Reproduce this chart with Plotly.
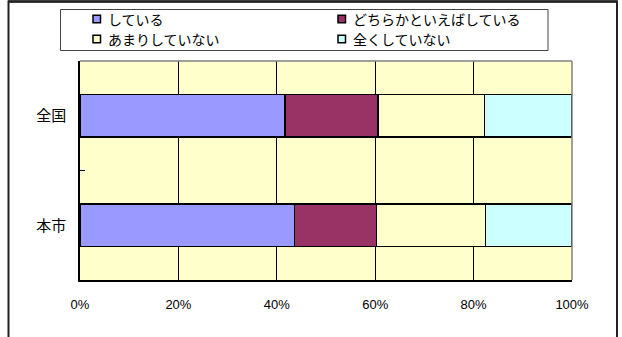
import plotly.graph_objects as go

categories = ["全国", "本市"]
series_names = ["している", "どちらかといえばしている", "あまりしていない", "全くしていない"]
series_values = {
    "している": [41.7, 43.6],
    "どちらかといえばしている": [18.9, 16.7],
    "あまりしていない": [21.6, 22.1],
    "全くしていない": [17.8, 17.6],
}
series_colors = ["#9999FF", "#993366", "#FFFFCC", "#CCFFFF"]
x_tick_values = [0, 20, 40, 60, 80, 100]
x_tick_labels = ["0%", "20%", "40%", "60%", "80%", "100%"]

W, H = 622, 337
L, R, T, B = 80, 50, 61, 57
PW, PH = W - L - R, H - T - B


def px_x(p):
    return (p - L) / PW


def px_y(p):
    return (H - B - p) / PH


fig = go.Figure()
for name, color in zip(series_names, series_colors):
    fig.add_trace(go.Bar(
        y=categories, x=series_values[name], name=name, orientation="h",
        marker=dict(color=color, line=dict(color="black", width=1.6)),
        width=0.385, showlegend=False,
    ))

shapes = []
annotations = []
# outer chart border
shapes.append(dict(type="rect", xref="paper", yref="paper",
                   x0=px_x(8.5), x1=px_x(617), y0=px_y(350), y1=px_y(1.5),
                   line=dict(color="#222222", width=2), layer="below"))
shapes.append(dict(type="line", xref="paper", yref="paper",
                   x0=px_x(8), x1=px_x(617.5), y0=px_y(1.5), y1=px_y(1.5),
                   line=dict(color="#222222", width=2.5)))
# legend box
shapes.append(dict(type="rect", xref="paper", yref="paper",
                   x0=px_x(60.5), x1=px_x(548), y0=px_y(50.5), y1=px_y(9.5),
                   line=dict(color="#444444", width=1), fillcolor="white", layer="below"))
# right/top plot border (gray)
shapes.append(dict(type="line", xref="paper", yref="paper", x0=1, x1=1, y0=0, y1=1,
                   line=dict(color="#808080", width=1.5)))
shapes.append(dict(type="line", xref="paper", yref="paper", x0=0, x1=1, y0=1, y1=1,
                   line=dict(color="#808080", width=1.5)))

legend_pos = [(93, 19), (338, 19), (93, 39), (338, 39)]
for name, color, (mx, my) in zip(series_names, series_colors, legend_pos):
    shapes.append(dict(type="rect", xref="paper", yref="paper",
                       x0=px_x(mx), x1=px_x(mx + 7.5), y0=px_y(my + 3.8), y1=px_y(my - 3.8),
                       fillcolor=color, line=dict(color="black", width=1.5)))
    annotations.append(dict(text=name, xref="paper", yref="paper",
                            x=px_x(mx + 13), y=px_y(my), xanchor="left", yanchor="middle",
                            showarrow=False,
                            font=dict(family="Noto Sans CJK JP", size=14, color="black")))

fig.update_layout(
    barmode="stack",
    width=W, height=H,
    margin=dict(l=L, r=R, t=T, b=B, autoexpand=False),
    paper_bgcolor="white",
    plot_bgcolor="#FFFFCC",
    shapes=shapes,
    annotations=annotations,
    showlegend=False,
    xaxis=dict(range=[0, 100], tickvals=x_tick_values, ticktext=x_tick_labels,
               showgrid=True, gridcolor="black", gridwidth=1,
               showline=True, linecolor="black", linewidth=1.5,
               ticks="", ticklabelstandoff=12, zeroline=False, automargin=False,
               tickfont=dict(family="Liberation Sans, Arial", size=13, color="black")),
    yaxis=dict(autorange="reversed", type="category", automargin=False,
               showgrid=False, showline=True, linecolor="black", linewidth=1.5,
               ticks="inside", ticklen=5, tickcolor="black", tickson="boundaries",
               ticklabelstandoff=9,
               tickfont=dict(family="Noto Sans CJK JP", size=15, color="black")),
    font=dict(family="Noto Sans CJK JP"),
)

fig.write_html(
    "out.html",
    config={"displayModeBar": False},
    post_script="document.body.style.margin='0';document.body.style.overflow='hidden';",
)
